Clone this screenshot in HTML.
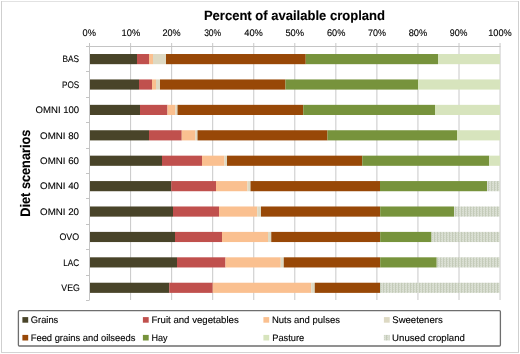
<!DOCTYPE html>
<html><head><meta charset="utf-8"><style>
html,body{margin:0;padding:0;background:#fff;width:520px;height:354px;overflow:hidden}
svg{display:block;will-change:transform;text-rendering:geometricPrecision}
text{font-family:"Liberation Sans", sans-serif;fill:#000;stroke:#000;stroke-width:0.12px;paint-order:stroke}
</style></head><body>
<svg width="520" height="354" viewBox="0 0 520 354">
<defs>
<pattern id="unused" width="3" height="2" patternUnits="userSpaceOnUse">
<rect width="3" height="2" fill="#dadfd3"/>
<rect x="2" y="0" width="1" height="2" fill="#c4cbb9"/>
<rect x="0" y="1" width="1" height="1" fill="#ced4c5"/>
</pattern>
</defs>
<rect x="0" y="0" width="520" height="354" fill="#fff"/>

<rect x="1" y="1" width="518" height="1" fill="#e2e2e2"/><rect x="1" y="1" width="1" height="352" fill="#cfcfcf"/><rect x="518" y="1" width="1" height="352" fill="#cfcfcf"/><rect x="1" y="352" width="518" height="1" fill="#d4d4d4"/>
<line x1="130.60" y1="43" x2="130.60" y2="300" stroke="#c8c8c8" stroke-width="1"/>
<line x1="171.65" y1="43" x2="171.65" y2="300" stroke="#c8c8c8" stroke-width="1"/>
<line x1="212.70" y1="43" x2="212.70" y2="300" stroke="#c8c8c8" stroke-width="1"/>
<line x1="253.75" y1="43" x2="253.75" y2="300" stroke="#c8c8c8" stroke-width="1"/>
<line x1="294.80" y1="43" x2="294.80" y2="300" stroke="#c8c8c8" stroke-width="1"/>
<line x1="335.85" y1="43" x2="335.85" y2="300" stroke="#c8c8c8" stroke-width="1"/>
<line x1="376.90" y1="43" x2="376.90" y2="300" stroke="#c8c8c8" stroke-width="1"/>
<line x1="417.95" y1="43" x2="417.95" y2="300" stroke="#c8c8c8" stroke-width="1"/>
<line x1="459.00" y1="43" x2="459.00" y2="300" stroke="#c8c8c8" stroke-width="1"/>
<line x1="500.05" y1="43" x2="500.05" y2="300" stroke="#c8c8c8" stroke-width="1"/>
<line x1="86" y1="46.5" x2="500.5" y2="46.5" stroke="#c4c4c4" stroke-width="1"/>
<line x1="89.5" y1="43" x2="89.5" y2="300.5" stroke="#c4c4c4" stroke-width="1"/>
<line x1="86" y1="46.5" x2="89" y2="46.5" stroke="#c4c4c4" stroke-width="1"/>
<line x1="86" y1="71.5" x2="89" y2="71.5" stroke="#c4c4c4" stroke-width="1"/>
<line x1="86" y1="97.5" x2="89" y2="97.5" stroke="#c4c4c4" stroke-width="1"/>
<line x1="86" y1="122.5" x2="89" y2="122.5" stroke="#c4c4c4" stroke-width="1"/>
<line x1="86" y1="148.5" x2="89" y2="148.5" stroke="#c4c4c4" stroke-width="1"/>
<line x1="86" y1="173.5" x2="89" y2="173.5" stroke="#c4c4c4" stroke-width="1"/>
<line x1="86" y1="198.5" x2="89" y2="198.5" stroke="#c4c4c4" stroke-width="1"/>
<line x1="86" y1="224.5" x2="89" y2="224.5" stroke="#c4c4c4" stroke-width="1"/>
<line x1="86" y1="249.5" x2="89" y2="249.5" stroke="#c4c4c4" stroke-width="1"/>
<line x1="86" y1="275.5" x2="89" y2="275.5" stroke="#c4c4c4" stroke-width="1"/>
<line x1="86" y1="300.5" x2="89" y2="300.5" stroke="#c4c4c4" stroke-width="1"/>
<rect x="90" y="54.02" width="47.00" height="10.16" fill="#494429"/>
<rect x="137" y="54.02" width="12.00" height="10.16" fill="#C0504D"/>
<rect x="149" y="54.02" width="4.00" height="10.16" fill="#FAC090"/>
<rect x="153" y="54.02" width="13.00" height="10.16" fill="#DDD9C3"/>
<rect x="166" y="54.02" width="139.75" height="10.16" fill="#984807"/>
<rect x="305.75" y="54.02" width="132.25" height="10.16" fill="#77933C"/>
<rect x="438" y="54.02" width="62.00" height="10.16" fill="#D7E4BD"/>
<rect x="90" y="79.44" width="49.00" height="10.16" fill="#494429"/>
<rect x="139" y="79.44" width="13.00" height="10.16" fill="#C0504D"/>
<rect x="152" y="79.44" width="4.00" height="10.16" fill="#FAC090"/>
<rect x="156" y="79.44" width="4.00" height="10.16" fill="#DDD9C3"/>
<rect x="160" y="79.44" width="125.50" height="10.16" fill="#984807"/>
<rect x="285.5" y="79.44" width="132.50" height="10.16" fill="#77933C"/>
<rect x="418" y="79.44" width="82.00" height="10.16" fill="#D7E4BD"/>
<rect x="90" y="104.84" width="50.00" height="10.16" fill="#494429"/>
<rect x="140" y="104.84" width="27.50" height="10.16" fill="#C0504D"/>
<rect x="167.5" y="104.84" width="8.00" height="10.16" fill="#FAC090"/>
<rect x="175.5" y="104.84" width="2.00" height="10.16" fill="#DDD9C3"/>
<rect x="177.5" y="104.84" width="125.75" height="10.16" fill="#984807"/>
<rect x="303.25" y="104.84" width="131.75" height="10.16" fill="#77933C"/>
<rect x="435" y="104.84" width="65.00" height="10.16" fill="#D7E4BD"/>
<rect x="90" y="130.25" width="59.00" height="10.16" fill="#494429"/>
<rect x="149" y="130.25" width="32.75" height="10.16" fill="#C0504D"/>
<rect x="181.75" y="130.25" width="13.75" height="10.16" fill="#FAC090"/>
<rect x="195.5" y="130.25" width="2.00" height="10.16" fill="#DDD9C3"/>
<rect x="197.5" y="130.25" width="130.00" height="10.16" fill="#984807"/>
<rect x="327.5" y="130.25" width="129.50" height="10.16" fill="#77933C"/>
<rect x="457" y="130.25" width="43.00" height="10.16" fill="#D7E4BD"/>
<rect x="90" y="155.66" width="72.00" height="10.16" fill="#494429"/>
<rect x="162" y="155.66" width="40.00" height="10.16" fill="#C0504D"/>
<rect x="202" y="155.66" width="22.50" height="10.16" fill="#FAC090"/>
<rect x="224.5" y="155.66" width="2.50" height="10.16" fill="#DDD9C3"/>
<rect x="227" y="155.66" width="135.25" height="10.16" fill="#984807"/>
<rect x="362.25" y="155.66" width="127.00" height="10.16" fill="#77933C"/>
<rect x="489.25" y="155.66" width="10.75" height="10.16" fill="#D7E4BD"/>
<rect x="90" y="181.07" width="81.25" height="10.16" fill="#494429"/>
<rect x="171.25" y="181.07" width="44.75" height="10.16" fill="#C0504D"/>
<rect x="216" y="181.07" width="31.50" height="10.16" fill="#FAC090"/>
<rect x="247.5" y="181.07" width="3.00" height="10.16" fill="#DDD9C3"/>
<rect x="250.5" y="181.07" width="129.50" height="10.16" fill="#984807"/>
<rect x="380" y="181.07" width="107.00" height="10.16" fill="#77933C"/>
<rect x="487" y="181.07" width="13.00" height="10.16" fill="url(#unused)"/>
<rect x="90" y="206.48" width="83.00" height="10.16" fill="#494429"/>
<rect x="173" y="206.48" width="46.00" height="10.16" fill="#C0504D"/>
<rect x="219" y="206.48" width="38.25" height="10.16" fill="#FAC090"/>
<rect x="257.25" y="206.48" width="3.75" height="10.16" fill="#DDD9C3"/>
<rect x="261" y="206.48" width="119.20" height="10.16" fill="#984807"/>
<rect x="380.2" y="206.48" width="73.80" height="10.16" fill="#77933C"/>
<rect x="454" y="206.48" width="46.00" height="10.16" fill="url(#unused)"/>
<rect x="90" y="231.89" width="85.00" height="10.16" fill="#494429"/>
<rect x="175" y="231.89" width="47.00" height="10.16" fill="#C0504D"/>
<rect x="222" y="231.89" width="46.00" height="10.16" fill="#FAC090"/>
<rect x="268" y="231.89" width="3.25" height="10.16" fill="#DDD9C3"/>
<rect x="271.25" y="231.89" width="108.95" height="10.16" fill="#984807"/>
<rect x="380.2" y="231.89" width="51.30" height="10.16" fill="#77933C"/>
<rect x="431.5" y="231.89" width="68.50" height="10.16" fill="url(#unused)"/>
<rect x="90" y="257.31" width="87.00" height="10.16" fill="#494429"/>
<rect x="177" y="257.31" width="48.50" height="10.16" fill="#C0504D"/>
<rect x="225.5" y="257.31" width="55.25" height="10.16" fill="#FAC090"/>
<rect x="280.75" y="257.31" width="3.00" height="10.16" fill="#DDD9C3"/>
<rect x="283.75" y="257.31" width="96.45" height="10.16" fill="#984807"/>
<rect x="380.2" y="257.31" width="56.55" height="10.16" fill="#77933C"/>
<rect x="436.75" y="257.31" width="63.25" height="10.16" fill="url(#unused)"/>
<rect x="90" y="282.72" width="79.25" height="10.16" fill="#494429"/>
<rect x="169.25" y="282.72" width="43.50" height="10.16" fill="#C0504D"/>
<rect x="212.75" y="282.72" width="98.50" height="10.16" fill="#FAC090"/>
<rect x="311.25" y="282.72" width="3.50" height="10.16" fill="#DDD9C3"/>
<rect x="314.75" y="282.72" width="65.25" height="10.16" fill="#984807"/>
<rect x="380" y="282.72" width="120.00" height="10.16" fill="url(#unused)"/>
<rect x="18.4" y="310.7" width="482" height="35.3" rx="1" fill="none" stroke="#6e6e6e" stroke-width="1.3"/>
<rect x="22.4" y="317.1" width="5.8" height="5.6" fill="#494429"/>
<rect x="142.9" y="317.1" width="5.8" height="5.6" fill="#C0504D"/>
<rect x="263.4" y="317.1" width="5.8" height="5.6" fill="#FAC090"/>
<rect x="383.9" y="317.1" width="5.8" height="5.6" fill="#DDD9C3"/>
<rect x="22.4" y="334.9" width="5.8" height="5.6" fill="#984807"/>
<rect x="142.9" y="334.9" width="5.8" height="5.6" fill="#77933C"/>
<rect x="263.4" y="334.9" width="5.8" height="5.6" fill="#D7E4BD"/>
<rect x="383.9" y="334.9" width="5.8" height="5.6" fill="url(#unused)"/>
<text id="title" x="294.43" y="20.4" text-anchor="middle" font-size="13.4" font-weight="bold" textLength="181.10" lengthAdjust="spacingAndGlyphs">Percent of available cropland</text>
<text id="x0" x="89.25" y="36" text-anchor="middle" font-size="9.5" textLength="13.39" lengthAdjust="spacingAndGlyphs">0%</text>
<text id="x1" x="130.86" y="36" text-anchor="middle" font-size="9.5" textLength="18.69" lengthAdjust="spacingAndGlyphs">10%</text>
<text id="x2" x="171.50" y="36" text-anchor="middle" font-size="9.5" textLength="18.21" lengthAdjust="spacingAndGlyphs">20%</text>
<text id="x3" x="212.67" y="36" text-anchor="middle" font-size="9.5" textLength="17.06" lengthAdjust="spacingAndGlyphs">30%</text>
<text id="x4" x="253.53" y="36" text-anchor="middle" font-size="9.5" textLength="18.60" lengthAdjust="spacingAndGlyphs">40%</text>
<text id="x5" x="294.73" y="36" text-anchor="middle" font-size="9.5" textLength="18.71" lengthAdjust="spacingAndGlyphs">50%</text>
<text id="x6" x="336.21" y="36" text-anchor="middle" font-size="9.5" textLength="18.37" lengthAdjust="spacingAndGlyphs">60%</text>
<text id="x7" x="376.98" y="36" text-anchor="middle" font-size="9.5" textLength="17.93" lengthAdjust="spacingAndGlyphs">70%</text>
<text id="x8" x="417.92" y="36" text-anchor="middle" font-size="9.5" textLength="18.49" lengthAdjust="spacingAndGlyphs">80%</text>
<text id="x9" x="458.63" y="36" text-anchor="middle" font-size="9.5" textLength="17.79" lengthAdjust="spacingAndGlyphs">90%</text>
<text id="x10" x="499.96" y="36" text-anchor="middle" font-size="9.5" textLength="23.52" lengthAdjust="spacingAndGlyphs">100%</text>
<text id="y0" x="79.16" y="62" text-anchor="end" font-size="9.5" textLength="16.60" lengthAdjust="spacingAndGlyphs">BAS</text>
<text id="y1" x="79.18" y="88" text-anchor="end" font-size="9.5" textLength="17.23" lengthAdjust="spacingAndGlyphs">POS</text>
<text id="y2" x="79.18" y="113" text-anchor="end" font-size="9.5" textLength="43.61" lengthAdjust="spacingAndGlyphs">OMNI 100</text>
<text id="y3" x="78.99" y="139" text-anchor="end" font-size="9.5" textLength="38.92" lengthAdjust="spacingAndGlyphs">OMNI 80</text>
<text id="y4" x="78.99" y="164" text-anchor="end" font-size="9.5" textLength="38.92" lengthAdjust="spacingAndGlyphs">OMNI 60</text>
<text id="y5" x="78.99" y="189" text-anchor="end" font-size="9.5" textLength="38.92" lengthAdjust="spacingAndGlyphs">OMNI 40</text>
<text id="y6" x="78.99" y="215" text-anchor="end" font-size="9.5" textLength="38.92" lengthAdjust="spacingAndGlyphs">OMNI 20</text>
<text id="y7" x="79.17" y="240" text-anchor="end" font-size="9.5" textLength="19.75" lengthAdjust="spacingAndGlyphs">OVO</text>
<text id="y8" x="79.16" y="266" text-anchor="end" font-size="9.5" textLength="15.99" lengthAdjust="spacingAndGlyphs">LAC</text>
<text id="y9" x="79.82" y="291" text-anchor="end" font-size="9.5" textLength="18.45" lengthAdjust="spacingAndGlyphs">VEG</text>
<text id="l_grains" x="30.80" y="323" text-anchor="start" font-size="9.5" textLength="27.42" lengthAdjust="spacingAndGlyphs">Grains</text>
<text id="l_fruit" x="151.49" y="323" text-anchor="start" font-size="9.5" textLength="87.25" lengthAdjust="spacingAndGlyphs">Fruit and vegetables</text>
<text id="l_nuts" x="271.89" y="323" text-anchor="start" font-size="9.5" textLength="68.06" lengthAdjust="spacingAndGlyphs">Nuts and pulses</text>
<text id="l_sweet" x="392.35" y="323" text-anchor="start" font-size="9.5" textLength="50.30" lengthAdjust="spacingAndGlyphs">Sweeteners</text>
<text id="l_feed" x="30.73" y="341" text-anchor="start" font-size="9.5" textLength="104.60" lengthAdjust="spacingAndGlyphs">Feed grains and oilseeds</text>
<text id="l_hay" x="151.52" y="341" text-anchor="start" font-size="9.5" textLength="16.08" lengthAdjust="spacingAndGlyphs">Hay</text>
<text id="l_pasture" x="272.24" y="341" text-anchor="start" font-size="9.5" textLength="32.04" lengthAdjust="spacingAndGlyphs">Pasture</text>
<text id="l_unused" x="392.12" y="341" text-anchor="start" font-size="9.5" textLength="72.81" lengthAdjust="spacingAndGlyphs">Unused cropland</text>
<text id="ytitle" transform="translate(29.7,173.20) rotate(-90)" x="0" y="0" text-anchor="middle" font-size="13.8" font-weight="bold" textLength="87.00" lengthAdjust="spacingAndGlyphs">Diet scenarios</text>
</svg>
</body></html>
